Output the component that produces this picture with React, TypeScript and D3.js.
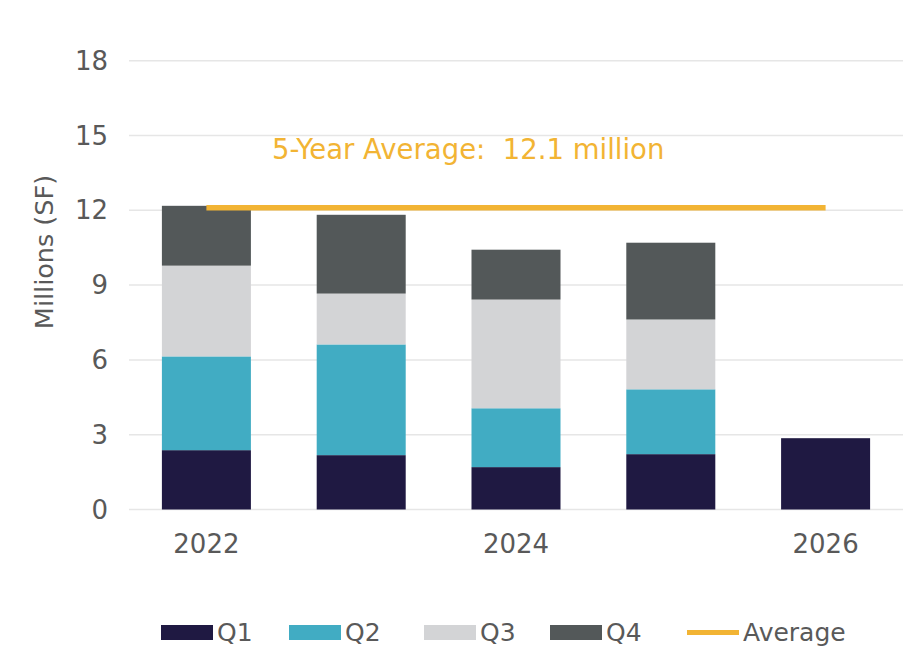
import * as d3 from "d3";

const years = ["2022", "2023", "2024", "2025", "2026"];
const yearLabels = ["2022", "", "2024", "", "2026"];
const quarters = ["Q1", "Q2", "Q3", "Q4"];
const q1 = [2.38, 2.18, 1.7, 2.22, 2.86];
const q2 = [3.76, 4.44, 2.36, 2.6, 0];
const q3 = [3.64, 2.04, 4.36, 2.8, 0];
const q4 = [2.4, 3.16, 2.0, 3.08, 0];
const average = 12.1;
const yTicks = [0, 3, 6, 9, 12, 15, 18];

const colors = ["#1f1942", "#41acc3", "#d3d4d6", "#535859"];
const avgColor = "#f2b434";
const textColor = "#595959";
const font = "'DejaVu Sans', Verdana, sans-serif";

export default function App() {
  const width = 907;
  const height = 648;

  const x = d3
    .scaleBand<string>()
    .domain(years)
    .range([129, 903])
    .paddingInner(0.425)
    .paddingOuter(0.2125);

  const y = d3.scaleLinear().domain([0, 18]).range([509.5, 60.7]);

  // rows for the stack
  const rows = years.map((yr, i) => ({
    year: yr,
    Q1: q1[i],
    Q2: q2[i],
    Q3: q3[i],
    Q4: q4[i]
  }));
  const series = d3.stack<any>().keys(quarters)(rows);

  const cx = (yr: string) => (x(yr) ?? 0) + x.bandwidth() / 2;

  const legend = [
    { label: "Q1", x: 161, kind: "rect", color: colors[0] },
    { label: "Q2", x: 289, kind: "rect", color: colors[1] },
    { label: "Q3", x: 424, kind: "rect", color: colors[2] },
    { label: "Q4", x: 550, kind: "rect", color: colors[3] },
    { label: "Average", x: 687, kind: "line", color: avgColor }
  ];

  return (
    <svg
      width={width}
      height={height}
      style={{ position: "absolute", left: 0, top: 0, background: "#fff" }}
      fontFamily={font}
    >
      {/* gridlines */}
      <g stroke="#e6e6e6" strokeWidth={1.5}>
        {yTicks.map(t => (
          <line key={t} x1={129} x2={903} y1={y(t)} y2={y(t)} />
        ))}
      </g>

      {/* y tick labels */}
      <g fill={textColor} fontSize={26} textAnchor="end">
        {yTicks.map(t => (
          <text key={t} x={108} y={y(t)} dy="0.35em">
            {t}
          </text>
        ))}
      </g>

      {/* y title */}
      <text
        transform="translate(53,252) rotate(-90)"
        textAnchor="middle"
        fill={textColor}
        fontSize={25.5}
      >
        Millions (SF)
      </text>

      {/* bars */}
      {series.map((s, si) => (
        <g key={s.key} fill={colors[si]}>
          {s.map((d, i) =>
            d[1] - d[0] > 0 ? (
              <rect
                key={i}
                x={x(years[i])}
                width={x.bandwidth()}
                y={y(d[1])}
                height={y(d[0]) - y(d[1])}
              />
            ) : null
          )}
        </g>
      ))}

      {/* average line */}
      <line
        x1={cx(years[0])}
        x2={cx(years[years.length - 1])}
        y1={y(average)}
        y2={y(average)}
        stroke={avgColor}
        strokeWidth={5.5}
      />
      <text
        x={272}
        y={159}
        fill={avgColor}
        fontSize={27.5}
        style={{ whiteSpace: "pre" }}
      >
        {`5-Year Average:  ${average} million`}
      </text>

      {/* x labels */}
      <g fill={textColor} fontSize={26} textAnchor="middle">
        {years.map((yr, i) => (
          <text key={yr} x={cx(yr)} y={553}>
            {yearLabels[i]}
          </text>
        ))}
      </g>

      {/* legend */}
      <g fontSize={25} fill={textColor}>
        {legend.map(l => (
          <g key={l.label}>
            {l.kind === "rect" ? (
              <rect x={l.x} y={625} width={52} height={15} fill={l.color} />
            ) : (
              <line
                x1={l.x}
                x2={l.x + 52}
                y1={632.5}
                y2={632.5}
                stroke={l.color}
                strokeWidth={5}
              />
            )}
            <text x={l.x + 56} y={641}>
              {l.label}
            </text>
          </g>
        ))}
      </g>
    </svg>
  );
}
